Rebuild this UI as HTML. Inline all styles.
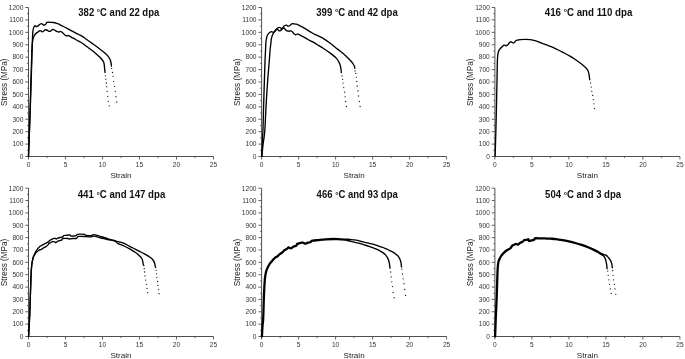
<!DOCTYPE html>
<html><head><meta charset="utf-8"><title>Stress-strain curves</title>
<style>
html,body{margin:0;padding:0;background:#fff;}
body{width:685px;height:359px;overflow:hidden;}
svg{display:block;}
.ax{fill:none;stroke:#505050;stroke-width:1;}
.tk{fill:none;stroke:#505050;stroke-width:0.9;}
.yl{font-family:"Liberation Sans",Arial,sans-serif;font-size:6.6px;fill:#333;text-anchor:end;}
.xl{font-family:"Liberation Sans",Arial,sans-serif;font-size:6.6px;fill:#333;text-anchor:middle;}
.at{font-family:"Liberation Sans",Arial,sans-serif;font-size:8.1px;fill:#222;text-anchor:middle;}
.tt{font-family:"Liberation Sans",Arial,sans-serif;font-size:10.5px;font-weight:bold;fill:#111;}
.dg{font-size:9px;}
.st{font-size:8.6px;}
.cv{fill:none;stroke:#000;stroke-width:1.35;stroke-linejoin:round;stroke-linecap:round;}
.thick{stroke-width:2.3;}
.thick6{stroke-width:2.3;}
.dots circle{fill:#111;}
</style></head>
<body>
<svg width="685" height="359" viewBox="0 0 685 359">
<rect width="685" height="359" fill="#fff"/>
<path d="M28.5 7.5V156.5H213.5" class="ax"/>
<path d="M25.3 156.5H28.5M27 150.29H28.5M25.3 144.08H28.5M27 137.88H28.5M25.3 131.67H28.5M27 125.46H28.5M25.3 119.25H28.5M27 113.04H28.5M25.3 106.83H28.5M27 100.63H28.5M25.3 94.42H28.5M27 88.21H28.5M25.3 82H28.5M27 75.79H28.5M25.3 69.58H28.5M27 63.38H28.5M25.3 57.17H28.5M27 50.96H28.5M25.3 44.75H28.5M27 38.54H28.5M25.3 32.33H28.5M27 26.13H28.5M25.3 19.92H28.5M27 13.71H28.5M25.3 7.5H28.5M28.5 156.5V159.5M47 156.5V158M65.5 156.5V159.5M84 156.5V158M102.5 156.5V159.5M121 156.5V158M139.5 156.5V159.5M158 156.5V158M176.5 156.5V159.5M195 156.5V158M213.5 156.5V159.5" class="tk"/>
<text x="23.4" y="158.8" class="yl">0</text>
<text x="23.4" y="146.38" class="yl">100</text>
<text x="23.4" y="133.97" class="yl">200</text>
<text x="23.4" y="121.55" class="yl">300</text>
<text x="23.4" y="109.13" class="yl">400</text>
<text x="23.4" y="96.72" class="yl">500</text>
<text x="23.4" y="84.3" class="yl">600</text>
<text x="23.4" y="71.88" class="yl">700</text>
<text x="23.4" y="59.47" class="yl">800</text>
<text x="23.4" y="47.05" class="yl">900</text>
<text x="23.4" y="34.63" class="yl">1000</text>
<text x="23.4" y="22.22" class="yl">1100</text>
<text x="23.4" y="9.8" class="yl">1200</text>
<text x="28.5" y="166.9" class="xl">0</text>
<text x="65.5" y="166.9" class="xl">5</text>
<text x="102.5" y="166.9" class="xl">10</text>
<text x="139.5" y="166.9" class="xl">15</text>
<text x="176.5" y="166.9" class="xl">20</text>
<text x="213.5" y="166.9" class="xl">25</text>
<text x="121" y="178.1" class="at">Strain</text>
<text transform="translate(6.6 82.2) rotate(-90)" class="at st" textLength="47.4" lengthAdjust="spacingAndGlyphs">Stress (MPa)</text>
<path d="M261.6 7.5V156.5H446.6" class="ax"/>
<path d="M258.4 156.5H261.6M260.1 150.29H261.6M258.4 144.08H261.6M260.1 137.88H261.6M258.4 131.67H261.6M260.1 125.46H261.6M258.4 119.25H261.6M260.1 113.04H261.6M258.4 106.83H261.6M260.1 100.63H261.6M258.4 94.42H261.6M260.1 88.21H261.6M258.4 82H261.6M260.1 75.79H261.6M258.4 69.58H261.6M260.1 63.38H261.6M258.4 57.17H261.6M260.1 50.96H261.6M258.4 44.75H261.6M260.1 38.54H261.6M258.4 32.33H261.6M260.1 26.13H261.6M258.4 19.92H261.6M260.1 13.71H261.6M258.4 7.5H261.6M261.6 156.5V159.5M280.1 156.5V158M298.6 156.5V159.5M317.1 156.5V158M335.6 156.5V159.5M354.1 156.5V158M372.6 156.5V159.5M391.1 156.5V158M409.6 156.5V159.5M428.1 156.5V158M446.6 156.5V159.5" class="tk"/>
<text x="256.5" y="158.8" class="yl">0</text>
<text x="256.5" y="146.38" class="yl">100</text>
<text x="256.5" y="133.97" class="yl">200</text>
<text x="256.5" y="121.55" class="yl">300</text>
<text x="256.5" y="109.13" class="yl">400</text>
<text x="256.5" y="96.72" class="yl">500</text>
<text x="256.5" y="84.3" class="yl">600</text>
<text x="256.5" y="71.88" class="yl">700</text>
<text x="256.5" y="59.47" class="yl">800</text>
<text x="256.5" y="47.05" class="yl">900</text>
<text x="256.5" y="34.63" class="yl">1000</text>
<text x="256.5" y="22.22" class="yl">1100</text>
<text x="256.5" y="9.8" class="yl">1200</text>
<text x="261.6" y="166.9" class="xl">0</text>
<text x="298.6" y="166.9" class="xl">5</text>
<text x="335.6" y="166.9" class="xl">10</text>
<text x="372.6" y="166.9" class="xl">15</text>
<text x="409.6" y="166.9" class="xl">20</text>
<text x="446.6" y="166.9" class="xl">25</text>
<text x="354.1" y="178.1" class="at">Strain</text>
<text transform="translate(239.7 82.2) rotate(-90)" class="at st" textLength="47.4" lengthAdjust="spacingAndGlyphs">Stress (MPa)</text>
<path d="M494.9 7.5V156.5H679.9" class="ax"/>
<path d="M491.7 156.5H494.9M493.4 150.29H494.9M491.7 144.08H494.9M493.4 137.88H494.9M491.7 131.67H494.9M493.4 125.46H494.9M491.7 119.25H494.9M493.4 113.04H494.9M491.7 106.83H494.9M493.4 100.63H494.9M491.7 94.42H494.9M493.4 88.21H494.9M491.7 82H494.9M493.4 75.79H494.9M491.7 69.58H494.9M493.4 63.38H494.9M491.7 57.17H494.9M493.4 50.96H494.9M491.7 44.75H494.9M493.4 38.54H494.9M491.7 32.33H494.9M493.4 26.13H494.9M491.7 19.92H494.9M493.4 13.71H494.9M491.7 7.5H494.9M494.9 156.5V159.5M513.4 156.5V158M531.9 156.5V159.5M550.4 156.5V158M568.9 156.5V159.5M587.4 156.5V158M605.9 156.5V159.5M624.4 156.5V158M642.9 156.5V159.5M661.4 156.5V158M679.9 156.5V159.5" class="tk"/>
<text x="489.8" y="158.8" class="yl">0</text>
<text x="489.8" y="146.38" class="yl">100</text>
<text x="489.8" y="133.97" class="yl">200</text>
<text x="489.8" y="121.55" class="yl">300</text>
<text x="489.8" y="109.13" class="yl">400</text>
<text x="489.8" y="96.72" class="yl">500</text>
<text x="489.8" y="84.3" class="yl">600</text>
<text x="489.8" y="71.88" class="yl">700</text>
<text x="489.8" y="59.47" class="yl">800</text>
<text x="489.8" y="47.05" class="yl">900</text>
<text x="489.8" y="34.63" class="yl">1000</text>
<text x="489.8" y="22.22" class="yl">1100</text>
<text x="489.8" y="9.8" class="yl">1200</text>
<text x="494.9" y="166.9" class="xl">0</text>
<text x="531.9" y="166.9" class="xl">5</text>
<text x="568.9" y="166.9" class="xl">10</text>
<text x="605.9" y="166.9" class="xl">15</text>
<text x="642.9" y="166.9" class="xl">20</text>
<text x="679.9" y="166.9" class="xl">25</text>
<text x="587.4" y="178.1" class="at">Strain</text>
<text transform="translate(473 82.2) rotate(-90)" class="at st" textLength="47.4" lengthAdjust="spacingAndGlyphs">Stress (MPa)</text>
<path d="M28.5 188.2V336.5H213.5" class="ax"/>
<path d="M25.3 336.5H28.5M27 330.32H28.5M25.3 324.14H28.5M27 317.96H28.5M25.3 311.78H28.5M27 305.6H28.5M25.3 299.43H28.5M27 293.25H28.5M25.3 287.07H28.5M27 280.89H28.5M25.3 274.71H28.5M27 268.53H28.5M25.3 262.35H28.5M27 256.17H28.5M25.3 249.99H28.5M27 243.81H28.5M25.3 237.63H28.5M27 231.45H28.5M25.3 225.27H28.5M27 219.1H28.5M25.3 212.92H28.5M27 206.74H28.5M25.3 200.56H28.5M27 194.38H28.5M25.3 188.2H28.5M28.5 336.5V339.5M47 336.5V338M65.5 336.5V339.5M84 336.5V338M102.5 336.5V339.5M121 336.5V338M139.5 336.5V339.5M158 336.5V338M176.5 336.5V339.5M195 336.5V338M213.5 336.5V339.5" class="tk"/>
<text x="23.4" y="338.8" class="yl">0</text>
<text x="23.4" y="326.44" class="yl">100</text>
<text x="23.4" y="314.08" class="yl">200</text>
<text x="23.4" y="301.73" class="yl">300</text>
<text x="23.4" y="289.37" class="yl">400</text>
<text x="23.4" y="277.01" class="yl">500</text>
<text x="23.4" y="264.65" class="yl">600</text>
<text x="23.4" y="252.29" class="yl">700</text>
<text x="23.4" y="239.93" class="yl">800</text>
<text x="23.4" y="227.57" class="yl">900</text>
<text x="23.4" y="215.22" class="yl">1000</text>
<text x="23.4" y="202.86" class="yl">1100</text>
<text x="23.4" y="190.5" class="yl">1200</text>
<text x="28.5" y="346.9" class="xl">0</text>
<text x="65.5" y="346.9" class="xl">5</text>
<text x="102.5" y="346.9" class="xl">10</text>
<text x="139.5" y="346.9" class="xl">15</text>
<text x="176.5" y="346.9" class="xl">20</text>
<text x="213.5" y="346.9" class="xl">25</text>
<text x="121" y="358.1" class="at">Strain</text>
<text transform="translate(6.6 262.55) rotate(-90)" class="at st" textLength="47.4" lengthAdjust="spacingAndGlyphs">Stress (MPa)</text>
<path d="M261.6 188.2V336.5H446.6" class="ax"/>
<path d="M258.4 336.5H261.6M260.1 330.32H261.6M258.4 324.14H261.6M260.1 317.96H261.6M258.4 311.78H261.6M260.1 305.6H261.6M258.4 299.43H261.6M260.1 293.25H261.6M258.4 287.07H261.6M260.1 280.89H261.6M258.4 274.71H261.6M260.1 268.53H261.6M258.4 262.35H261.6M260.1 256.17H261.6M258.4 249.99H261.6M260.1 243.81H261.6M258.4 237.63H261.6M260.1 231.45H261.6M258.4 225.27H261.6M260.1 219.1H261.6M258.4 212.92H261.6M260.1 206.74H261.6M258.4 200.56H261.6M260.1 194.38H261.6M258.4 188.2H261.6M261.6 336.5V339.5M280.1 336.5V338M298.6 336.5V339.5M317.1 336.5V338M335.6 336.5V339.5M354.1 336.5V338M372.6 336.5V339.5M391.1 336.5V338M409.6 336.5V339.5M428.1 336.5V338M446.6 336.5V339.5" class="tk"/>
<text x="256.5" y="338.8" class="yl">0</text>
<text x="256.5" y="326.44" class="yl">100</text>
<text x="256.5" y="314.08" class="yl">200</text>
<text x="256.5" y="301.73" class="yl">300</text>
<text x="256.5" y="289.37" class="yl">400</text>
<text x="256.5" y="277.01" class="yl">500</text>
<text x="256.5" y="264.65" class="yl">600</text>
<text x="256.5" y="252.29" class="yl">700</text>
<text x="256.5" y="239.93" class="yl">800</text>
<text x="256.5" y="227.57" class="yl">900</text>
<text x="256.5" y="215.22" class="yl">1000</text>
<text x="256.5" y="202.86" class="yl">1100</text>
<text x="256.5" y="190.5" class="yl">1200</text>
<text x="261.6" y="346.9" class="xl">0</text>
<text x="298.6" y="346.9" class="xl">5</text>
<text x="335.6" y="346.9" class="xl">10</text>
<text x="372.6" y="346.9" class="xl">15</text>
<text x="409.6" y="346.9" class="xl">20</text>
<text x="446.6" y="346.9" class="xl">25</text>
<text x="354.1" y="358.1" class="at">Strain</text>
<text transform="translate(239.7 262.55) rotate(-90)" class="at st" textLength="47.4" lengthAdjust="spacingAndGlyphs">Stress (MPa)</text>
<path d="M494.9 188.2V336.5H679.9" class="ax"/>
<path d="M491.7 336.5H494.9M493.4 330.32H494.9M491.7 324.14H494.9M493.4 317.96H494.9M491.7 311.78H494.9M493.4 305.6H494.9M491.7 299.43H494.9M493.4 293.25H494.9M491.7 287.07H494.9M493.4 280.89H494.9M491.7 274.71H494.9M493.4 268.53H494.9M491.7 262.35H494.9M493.4 256.17H494.9M491.7 249.99H494.9M493.4 243.81H494.9M491.7 237.63H494.9M493.4 231.45H494.9M491.7 225.27H494.9M493.4 219.1H494.9M491.7 212.92H494.9M493.4 206.74H494.9M491.7 200.56H494.9M493.4 194.38H494.9M491.7 188.2H494.9M494.9 336.5V339.5M513.4 336.5V338M531.9 336.5V339.5M550.4 336.5V338M568.9 336.5V339.5M587.4 336.5V338M605.9 336.5V339.5M624.4 336.5V338M642.9 336.5V339.5M661.4 336.5V338M679.9 336.5V339.5" class="tk"/>
<text x="489.8" y="338.8" class="yl">0</text>
<text x="489.8" y="326.44" class="yl">100</text>
<text x="489.8" y="314.08" class="yl">200</text>
<text x="489.8" y="301.73" class="yl">300</text>
<text x="489.8" y="289.37" class="yl">400</text>
<text x="489.8" y="277.01" class="yl">500</text>
<text x="489.8" y="264.65" class="yl">600</text>
<text x="489.8" y="252.29" class="yl">700</text>
<text x="489.8" y="239.93" class="yl">800</text>
<text x="489.8" y="227.57" class="yl">900</text>
<text x="489.8" y="215.22" class="yl">1000</text>
<text x="489.8" y="202.86" class="yl">1100</text>
<text x="489.8" y="190.5" class="yl">1200</text>
<text x="494.9" y="346.9" class="xl">0</text>
<text x="531.9" y="346.9" class="xl">5</text>
<text x="568.9" y="346.9" class="xl">10</text>
<text x="605.9" y="346.9" class="xl">15</text>
<text x="642.9" y="346.9" class="xl">20</text>
<text x="679.9" y="346.9" class="xl">25</text>
<text x="587.4" y="358.1" class="at">Strain</text>
<text transform="translate(473 262.55) rotate(-90)" class="at st" textLength="47.4" lengthAdjust="spacingAndGlyphs">Stress (MPa)</text>
<text x="78.3" y="15.6" class="tt" textLength="81" lengthAdjust="spacingAndGlyphs">382 <tspan class="dg" dy="-0.3">&#176;</tspan><tspan dy="0.3">C and 22 dpa</tspan></text>
<text x="316.3" y="15.6" class="tt" textLength="81.5" lengthAdjust="spacingAndGlyphs">399 <tspan class="dg" dy="-0.3">&#176;</tspan><tspan dy="0.3">C and 42 dpa</tspan></text>
<text x="544.8" y="15.6" class="tt" textLength="87.5" lengthAdjust="spacingAndGlyphs">416 <tspan class="dg" dy="-0.3">&#176;</tspan><tspan dy="0.3">C and 110 dpa</tspan></text>
<text x="77.7" y="198.1" class="tt" textLength="87.6" lengthAdjust="spacingAndGlyphs">441 <tspan class="dg" dy="-0.3">&#176;</tspan><tspan dy="0.3">C and 147 dpa</tspan></text>
<text x="316.6" y="198.1" class="tt" textLength="81.2" lengthAdjust="spacingAndGlyphs">466 <tspan class="dg" dy="-0.3">&#176;</tspan><tspan dy="0.3">C and 93 dpa</tspan></text>
<text x="545.1" y="198.1" class="tt" textLength="76" lengthAdjust="spacingAndGlyphs">504 <tspan class="dg" dy="-0.3">&#176;</tspan><tspan dy="0.3">C and 3 dpa</tspan></text>
<path d="M28.5 156.4C28.78 148.67 29.7 124.4 30.2 110C30.7 95.6 31.18 80 31.5 70C31.82 60 31.93 55.33 32.1 50C32.27 44.67 32.37 41.17 32.5 38C32.63 34.83 32.72 32.68 32.9 31C33.08 29.32 33.33 28.7 33.6 27.9C33.87 27.1 34.22 26.58 34.5 26.2C34.78 25.82 35.03 25.55 35.3 25.6C35.57 25.65 35.77 26.38 36.1 26.5C36.43 26.62 36.92 26.43 37.3 26.3C37.68 26.17 37.95 26.05 38.4 25.7C38.85 25.35 39.45 24.55 40 24.2C40.55 23.85 41.25 23.57 41.7 23.6C42.15 23.63 42.38 24.17 42.7 24.4C43.02 24.63 43.28 24.9 43.6 25C43.92 25.1 44.23 25.12 44.6 25C44.97 24.88 45.5 24.63 45.8 24.3C46.1 23.97 46.2 23.32 46.4 23C46.6 22.68 46.67 22.53 47 22.4C47.33 22.27 47.9 22.22 48.4 22.2C48.9 22.18 49.17 22.25 50 22.3C50.83 22.35 52.28 22.33 53.4 22.5C54.52 22.67 55.78 23.02 56.7 23.3C57.62 23.58 58.17 23.85 58.9 24.2C59.63 24.55 60.35 25.02 61.1 25.4C61.85 25.78 62.32 25.95 63.4 26.5C64.48 27.05 65.98 27.83 67.6 28.7C69.22 29.57 71.25 30.73 73.1 31.7C74.95 32.67 77.22 33.75 78.7 34.5C80.18 35.25 80.73 35.42 82 36.2C83.27 36.98 84.55 37.97 86.3 39.2C88.05 40.43 90.42 42.1 92.5 43.6C94.58 45.1 96.7 46.6 98.8 48.2C100.9 49.8 103.53 51.85 105.1 53.2C106.67 54.55 107.37 55.25 108.2 56.3C109.03 57.35 109.62 58.35 110.1 59.5C110.58 60.65 110.88 62.12 111.1 63.2C111.32 64.28 111.35 65.53 111.4 66" class="cv"/>
<path d="M28.5 156.4C28.77 148.67 29.63 124.4 30.1 110C30.57 95.6 31.02 79.5 31.3 70C31.58 60.5 31.63 57.33 31.8 53C31.97 48.67 32.1 46.37 32.3 44C32.5 41.63 32.68 40.17 33 38.8C33.32 37.43 33.77 36.65 34.2 35.8C34.63 34.95 35.13 34.23 35.6 33.7C36.07 33.17 36.53 32.93 37 32.6C37.47 32.27 37.93 32.03 38.4 31.7C38.87 31.37 39.33 30.7 39.8 30.6C40.27 30.5 40.75 30.88 41.2 31.1C41.65 31.32 42.08 31.9 42.5 31.9C42.92 31.9 43.27 31.45 43.7 31.1C44.13 30.75 44.6 29.98 45.1 29.8C45.6 29.62 46.15 29.78 46.7 30C47.25 30.22 47.88 30.87 48.4 31.1C48.92 31.33 49.33 31.5 49.8 31.4C50.27 31.3 50.68 30.83 51.2 30.5C51.72 30.17 52.35 29.48 52.9 29.4C53.45 29.32 53.97 29.72 54.5 30C55.03 30.28 55.57 30.82 56.1 31.1C56.63 31.38 57.22 31.53 57.7 31.7C58.18 31.87 58.57 32.15 59 32.1C59.43 32.05 59.8 31.38 60.3 31.4C60.8 31.42 61.43 31.8 62 32.2C62.57 32.6 63.15 33.28 63.7 33.8C64.25 34.32 64.7 34.95 65.3 35.3C65.9 35.65 66.83 35.88 67.3 35.9C67.77 35.92 67.78 35.4 68.1 35.4C68.42 35.4 68.37 35.43 69.2 35.9C70.03 36.37 71.52 37.32 73.1 38.2C74.68 39.08 77.17 40.35 78.7 41.2C80.23 42.05 81.03 42.45 82.3 43.3C83.57 44.15 84.6 45.07 86.3 46.3C88 47.53 90.42 49.03 92.5 50.7C94.58 52.37 97.23 54.83 98.8 56.3C100.37 57.77 101.07 58.45 101.9 59.5C102.73 60.55 103.38 61.47 103.8 62.6C104.22 63.73 104.2 64.65 104.4 66.3C104.6 67.95 104.9 71.47 105 72.5" class="cv"/>
<path d="M261.8 156.4C261.88 154.5 262.15 148.57 262.3 145C262.45 141.43 262.57 138.17 262.7 135C262.83 131.83 262.97 130.17 263.1 126C263.23 121.83 263.38 114.33 263.5 110C263.62 105.67 263.65 105 263.8 100C263.95 95 264.2 86.33 264.4 80C264.6 73.67 264.82 66.83 265 62C265.18 57.17 265.33 54.42 265.5 51C265.67 47.58 265.75 43.97 266 41.5C266.25 39.03 266.58 37.52 267 36.2C267.42 34.88 268 34.27 268.5 33.6C269 32.93 269.53 32.53 270 32.2C270.47 31.87 270.88 31.62 271.3 31.6C271.72 31.58 272.02 32.02 272.5 32.1C272.98 32.18 273.62 32.4 274.2 32.1C274.78 31.8 275.42 30.97 276 30.3C276.58 29.63 277.12 28.6 277.7 28.1C278.28 27.6 278.98 27.3 279.5 27.3C280.02 27.3 280.3 27.88 280.8 28.1C281.3 28.32 281.92 28.6 282.5 28.6C283.08 28.6 283.85 27.95 284.3 28.1C284.75 28.25 284.77 29.05 285.2 29.5C285.63 29.95 286.25 30.52 286.9 30.8C287.55 31.08 288.45 31.2 289.1 31.2C289.75 31.2 290.22 30.65 290.8 30.8C291.38 30.95 292.08 31.6 292.6 32.1C293.12 32.6 293.38 33.37 293.9 33.8C294.42 34.23 295.03 34.7 295.7 34.7C296.37 34.7 297.32 33.8 297.9 33.8C298.48 33.8 298.27 34.18 299.2 34.7C300.13 35.22 302.05 36.1 303.5 36.9C304.95 37.7 306.43 38.7 307.9 39.5C309.37 40.3 310.78 40.87 312.3 41.7C313.82 42.53 315.07 43.33 317 44.5C318.93 45.67 321.58 47.18 323.9 48.7C326.22 50.22 328.8 51.98 330.9 53.6C333 55.22 335.12 56.9 336.5 58.4C337.88 59.9 338.52 61.2 339.2 62.6C339.88 64 340.23 65.13 340.6 66.8C340.97 68.47 341.27 71.63 341.4 72.6" class="cv"/>
<path d="M261.9 156.4C262.08 154.5 262.58 148.57 263 145C263.42 141.43 264.05 138.17 264.4 135C264.75 131.83 264.9 129.33 265.1 126C265.3 122.67 265.38 119.33 265.6 115C265.82 110.67 266.05 105.83 266.4 100C266.75 94.17 267.23 86.33 267.7 80C268.17 73.67 268.82 66.83 269.2 62C269.58 57.17 269.72 54.17 270 51C270.28 47.83 270.65 45.13 270.9 43C271.15 40.87 271.23 39.53 271.5 38.2C271.77 36.87 272.08 36 272.5 35C272.92 34 273.58 32.93 274 32.2C274.42 31.47 274.57 31.1 275 30.6C275.43 30.1 276.18 29.42 276.6 29.2C277.02 28.98 277.1 29.03 277.5 29.3C277.9 29.57 278.45 30.63 279 30.8C279.55 30.97 280.28 30.6 280.8 30.3C281.32 30 281.67 29.58 282.1 29C282.53 28.42 282.97 27.38 283.4 26.8C283.83 26.22 284.18 25.78 284.7 25.5C285.22 25.22 285.92 24.98 286.5 25.1C287.08 25.22 287.62 26.13 288.2 26.2C288.78 26.27 289.42 25.9 290 25.5C290.58 25.1 291.05 24.08 291.7 23.8C292.35 23.52 293.1 23.73 293.9 23.8C294.7 23.87 295.62 23.95 296.5 24.2C297.38 24.45 298.03 24.72 299.2 25.3C300.37 25.88 302.05 26.87 303.5 27.7C304.95 28.53 306.43 29.42 307.9 30.3C309.37 31.18 310.7 32.12 312.3 33C313.9 33.88 315.57 34.62 317.5 35.6C319.43 36.58 321.67 37.53 323.9 38.9C326.13 40.27 328.57 42.05 330.9 43.8C333.23 45.55 335.58 47.55 337.9 49.4C340.22 51.25 342.72 53.05 344.8 54.9C346.88 56.75 349 58.98 350.4 60.5C351.8 62.02 352.5 62.95 353.2 64C353.9 65.05 354.33 66.07 354.6 66.8C354.87 67.53 354.77 68.13 354.8 68.4" class="cv"/>
<path d="M495.1 156.3C495.23 151.92 495.65 139.38 495.9 130C496.15 120.62 496.4 109.17 496.6 100C496.8 90.83 496.98 81 497.1 75C497.22 69 497.22 67 497.3 64C497.38 61 497.45 58.88 497.6 57C497.75 55.12 497.95 53.85 498.2 52.7C498.45 51.55 498.72 50.83 499.1 50.1C499.48 49.37 500.02 48.83 500.5 48.3C500.98 47.77 501.52 47.38 502 46.9C502.48 46.42 502.92 45.7 503.4 45.4C503.88 45.1 504.48 45.03 504.9 45.1C505.32 45.17 505.48 45.8 505.9 45.8C506.32 45.8 506.97 45.4 507.4 45.1C507.83 44.8 508.13 44.43 508.5 44C508.87 43.57 509.12 42.87 509.6 42.5C510.08 42.13 510.87 41.73 511.4 41.8C511.93 41.87 512.27 42.83 512.8 42.9C513.33 42.97 514.12 42.57 514.6 42.2C515.08 41.83 515.15 41.07 515.7 40.7C516.25 40.33 517.18 40.17 517.9 40C518.62 39.83 518.82 39.8 520 39.7C521.18 39.6 523.27 39.4 525 39.4C526.73 39.4 528.72 39.48 530.4 39.7C532.08 39.92 533.43 40.2 535.1 40.7C536.77 41.2 538.62 42.03 540.4 42.7C542.18 43.37 544.02 44.05 545.8 44.7C547.58 45.35 549.18 45.8 551.1 46.6C553.02 47.4 555.25 48.5 557.3 49.5C559.35 50.5 561.37 51.53 563.4 52.6C565.43 53.67 567.47 54.7 569.5 55.9C571.53 57.1 573.55 58.4 575.6 59.8C577.65 61.2 580.17 63.03 581.8 64.3C583.43 65.57 584.38 66.37 585.4 67.4C586.42 68.43 587.28 69.27 587.9 70.5C588.52 71.73 588.8 73.27 589.1 74.8C589.4 76.33 589.6 78.88 589.7 79.7" class="cv"/>
<path d="M28.6 336.4C28.64 335.64 29.12 326.51 29.2 325C29.28 323.49 29.68 315.62 29.75 313.75C29.82 311.88 30.23 299.05 30.3 297C30.37 294.95 30.75 284.53 30.8 283C30.85 281.47 31.04 275.2 31.1 274C31.16 272.8 31.65 265.93 31.75 265C31.85 264.07 32.49 260.55 32.6 260C32.71 259.45 33.27 257.19 33.4 256.8C33.53 256.41 34.33 254.57 34.5 254.2C34.67 253.83 35.7 251.67 36 251.2C36.3 250.73 38.63 247.58 39 247.2C39.37 246.82 41.17 245.7 41.5 245.5C41.83 245.3 43.67 244.37 44 244.2C44.33 244.03 46.2 243.05 46.5 242.9C46.8 242.75 48.3 242.06 48.5 241.9C48.7 241.74 49.22 240.71 49.5 240.5C49.78 240.29 52.34 238.96 52.7 238.8C53.06 238.64 54.66 238.09 54.9 238.1C55.14 238.11 56.12 238.99 56.3 239C56.48 239.01 57.35 238.3 57.6 238.2C57.85 238.1 59.66 237.59 60 237.5C60.34 237.41 62.45 237.03 62.7 236.9C62.95 236.77 63.48 235.61 63.7 235.5C63.92 235.39 65.58 235.34 66 235.3C66.42 235.26 69.67 234.85 70 234.9C70.33 234.95 70.77 235.93 71 236C71.23 236.07 73.07 236.02 73.4 236C73.73 235.98 75.73 235.81 76 235.7C76.27 235.59 77.13 234.41 77.4 234.3C77.67 234.19 79.51 234.1 80 234.1C80.49 234.1 84.3 234.21 84.7 234.3C85.1 234.39 85.55 235.31 86 235.4C86.45 235.49 90.93 235.75 91.4 235.7C91.87 235.65 92.73 234.65 93 234.6C93.27 234.55 94.93 234.79 95.4 234.9C95.87 235.01 99.43 236.13 100 236.3C100.57 236.47 103.47 237.23 104 237.4C104.53 237.57 107.37 238.72 108 238.9C108.63 239.08 112.87 239.95 113.4 240.1C113.93 240.25 115.56 240.97 116 241.1C116.44 241.23 119.47 241.95 120 242.1C120.53 242.25 123.39 243.03 124 243.3C124.61 243.57 128.53 245.75 129.2 246.1C129.87 246.45 133.35 248.17 134 248.5C134.65 248.83 138.37 250.77 139 251.1C139.63 251.43 142.97 253.11 143.5 253.4C144.03 253.69 146.57 255.14 147 255.4C147.43 255.66 149.64 257.05 150 257.3C150.36 257.55 152.14 258.93 152.4 259.2C152.66 259.47 153.74 261.08 153.9 261.4C154.06 261.72 154.7 263.64 154.8 264C154.9 264.36 155.36 266.61 155.4 266.8" class="cv"/>
<path d="M28.6 336.4C28.64 335.64 29.12 326.51 29.2 325C29.28 323.49 29.68 315.62 29.75 313.75C29.82 311.88 30.23 299.05 30.3 297C30.37 294.95 30.75 284.53 30.8 283C30.85 281.47 31.04 275.2 31.1 274C31.16 272.8 31.65 265.93 31.75 265C31.85 264.07 32.49 260.53 32.6 260C32.71 259.47 33.27 257.33 33.4 257C33.53 256.67 34.33 255.29 34.5 255C34.67 254.71 35.7 252.92 36 252.6C36.3 252.28 38.67 250.41 39 250.2C39.33 249.99 40.7 249.65 41 249.5C41.3 249.35 43.17 248.09 43.5 247.9C43.83 247.71 45.7 246.8 46 246.6C46.3 246.4 47.8 245.11 48 244.9C48.2 244.69 48.83 243.55 49 243.4C49.17 243.25 50.25 242.71 50.5 242.6C50.75 242.49 52.43 241.75 52.7 241.7C52.97 241.65 54.39 241.74 54.6 241.8C54.81 241.86 55.6 242.63 55.8 242.6C56 242.57 57.37 241.53 57.6 241.4C57.83 241.27 59.03 240.78 59.3 240.7C59.57 240.62 61.42 240.28 61.6 240.2C61.78 240.12 61.93 239.61 62 239.5C62.07 239.39 62.3 238.57 62.7 238.5C63.1 238.43 67.55 238.46 68 238.5C68.45 238.54 69.24 239.08 69.4 239.1C69.56 239.12 70.18 238.84 70.4 238.8C70.62 238.76 72.3 238.52 72.7 238.5C73.1 238.48 76.09 238.59 76.4 238.5C76.71 238.41 77.25 237.24 77.4 237.1C77.55 236.96 78.21 236.44 78.7 236.4C79.19 236.36 83.85 236.47 84.7 236.5C85.55 236.53 90.78 236.83 91.4 236.8C92.02 236.77 93.56 236.08 94 236.1C94.44 236.12 97.55 236.97 98 237.1C98.45 237.23 100.3 237.91 100.7 238C101.1 238.09 103.51 238.39 104 238.5C104.49 238.61 107.37 239.46 108 239.6C108.63 239.74 112.87 240.47 113.4 240.6C113.93 240.73 115.73 241.43 116 241.6C116.27 241.77 117.13 243.01 117.4 243.2C117.67 243.39 119.56 244.21 120 244.4C120.44 244.59 123.39 245.72 124 246C124.61 246.28 128.63 248.29 129.2 248.6C129.77 248.91 132.11 250.35 132.5 250.6C132.89 250.85 134.75 252.06 135.1 252.3C135.45 252.54 137.48 253.94 137.8 254.2C138.12 254.46 139.65 255.95 139.9 256.2C140.15 256.45 141.33 257.74 141.5 258C141.67 258.26 142.39 259.7 142.5 260.1C142.61 260.5 143.14 263.67 143.2 264C143.26 264.33 143.39 264.93 143.4 265" class="cv"/>
<path d="M346 239.4C346.67 239.42 348.32 239.38 350 239.5C351.68 239.62 354.07 239.73 356.1 240.1C358.13 240.47 360.15 241.18 362.2 241.7C364.25 242.22 366.35 242.7 368.4 243.2C370.45 243.7 372.57 244.13 374.5 244.7C376.43 245.27 378.25 246 380 246.6C381.75 247.2 383.47 247.68 385 248.3C386.53 248.92 387.87 249.65 389.2 250.3C390.53 250.95 391.87 251.53 393 252.2C394.13 252.87 395.12 253.6 396 254.3C396.88 255 397.65 255.58 398.3 256.4C398.95 257.22 399.47 258.23 399.9 259.2C400.33 260.17 400.67 261.2 400.9 262.2C401.13 263.2 401.2 264.4 401.3 265.2C401.4 266 401.47 266.7 401.5 267" class="cv"/>
<path d="M346 240.2C346.67 240.37 348.32 240.8 350 241.2C351.68 241.6 354.07 242.12 356.1 242.6C358.13 243.08 360.15 243.5 362.2 244.1C364.25 244.7 366.35 245.48 368.4 246.2C370.45 246.92 372.57 247.63 374.5 248.4C376.43 249.17 378.53 250.05 380 250.8C381.47 251.55 382.38 252.22 383.3 252.9C384.22 253.58 384.83 254.17 385.5 254.9C386.17 255.63 386.8 256.45 387.3 257.3C387.8 258.15 388.15 258.97 388.5 260C388.85 261.03 389.15 262.15 389.4 263.5C389.65 264.85 389.9 267.33 390 268.1" class="cv"/>
<path d="M602.7 254.8C602.98 255.15 603.92 256.07 604.4 256.9C604.88 257.73 605.25 258.68 605.6 259.8C605.95 260.92 606.28 262.42 606.5 263.6C606.72 264.78 606.8 266.07 606.9 266.9C607 267.73 607.07 268.32 607.1 268.6" class="cv"/>
<path d="M602.3 254.2C602.92 254.37 604.97 254.62 606 255.2C607.03 255.78 607.73 256.8 608.5 257.7C609.27 258.6 610.03 259.48 610.6 260.6C611.17 261.72 611.62 263.22 611.9 264.4C612.18 265.58 612.23 267.15 612.3 267.7" class="cv"/>
<path d="M261.9 336.4C262.02 334.5 262.38 327.98 262.6 325C262.82 322.02 263 322.82 263.2 318.5C263.4 314.18 263.62 304.18 263.8 299.1C263.98 294.02 264.13 291.18 264.3 288C264.47 284.82 264.63 282.03 264.8 280C264.97 277.97 265.05 277.33 265.3 275.8C265.55 274.27 265.87 272.25 266.3 270.8C266.73 269.35 267.28 268.33 267.9 267.1C268.52 265.87 269.23 264.52 270 263.4C270.77 262.28 271.58 261.4 272.5 260.4C273.42 259.4 274.73 258.03 275.5 257.4C276.27 256.77 276.48 257.07 277.1 256.6C277.72 256.13 278.37 255.28 279.2 254.6C280.03 253.92 281.33 253.13 282.1 252.5C282.87 251.87 283.03 251.38 283.8 250.8C284.57 250.22 285.88 249.57 286.7 249C287.52 248.43 288.03 247.5 288.7 247.4C289.37 247.3 289.92 248.52 290.7 248.4C291.48 248.28 292.45 247.15 293.4 246.7C294.35 246.25 295.8 246.15 296.4 245.7C297 245.25 296.4 244.45 297 244C297.6 243.55 299 243.23 300 243C301 242.77 302.17 242.48 303 242.6C303.83 242.72 304.17 243.7 305 243.7C305.83 243.7 307.05 242.9 308 242.6C308.95 242.3 310.08 242.22 310.7 241.9C311.32 241.58 311.15 240.93 311.7 240.7C312.25 240.47 312.65 240.65 314 240.5C315.35 240.35 317.85 240 319.8 239.8C321.75 239.6 323.45 239.43 325.7 239.3C327.95 239.17 330.87 239 333.3 239C335.73 239 338.17 239.2 340.3 239.3C342.43 239.4 344.65 239.48 346.1 239.6C347.55 239.72 348.52 239.93 349 240" class="cv thick"/>
<path d="M495.1 336.4C495.22 333.25 495.53 324.08 495.8 317.5C496.07 310.92 496.45 303.42 496.7 296.9C496.95 290.38 497.15 282.88 497.3 278.4C497.45 273.92 497.45 272.55 497.6 270C497.75 267.45 497.9 264.88 498.2 263.1C498.5 261.32 498.92 260.48 499.4 259.3C499.88 258.12 500.53 256.9 501.1 256C501.67 255.1 502.17 254.6 502.8 253.9C503.43 253.2 504.28 252.37 504.9 251.8C505.52 251.23 505.88 250.92 506.5 250.5C507.12 250.08 507.9 249.72 508.6 249.3C509.3 248.88 510.13 248.57 510.7 248C511.27 247.43 511.43 246.45 512 245.9C512.57 245.35 513.42 245.05 514.1 244.7C514.78 244.35 515.48 243.8 516.1 243.8C516.72 243.8 517.17 244.83 517.8 244.7C518.43 244.57 519.12 243.5 519.9 243C520.68 242.5 521.77 242.18 522.5 241.7C523.23 241.22 523.6 240.42 524.3 240.1C525 239.78 526.03 239.95 526.7 239.8C527.37 239.65 527.93 239 528.3 239.2C528.67 239.4 528.33 240.8 528.9 241C529.47 241.2 530.83 240.58 531.7 240.4C532.57 240.22 533.58 240.23 534.1 239.9C534.62 239.57 534.08 238.67 534.8 238.4C535.52 238.13 536.78 238.3 538.4 238.3C540.02 238.3 542.45 238.33 544.5 238.4C546.55 238.47 548.78 238.58 550.7 238.7C552.62 238.82 554.05 238.87 556 239.1C557.95 239.33 560.27 239.72 562.4 240.1C564.53 240.48 566.65 240.92 568.8 241.4C570.95 241.88 573.15 242.42 575.3 243C577.45 243.58 579.57 244.2 581.7 244.9C583.83 245.6 585.97 246.33 588.1 247.2C590.23 248.07 592.85 249.3 594.5 250.1C596.15 250.9 597.02 251.45 598 252C598.98 252.55 599.62 252.93 600.4 253.4C601.18 253.87 602.32 254.57 602.7 254.8" class="cv thick6"/>
<g class="dots"><circle cx="111.7" cy="68.3" r="0.65"/><circle cx="112.5" cy="72.5" r="0.65"/><circle cx="113" cy="76.3" r="0.65"/><circle cx="113.7" cy="81.3" r="0.65"/><circle cx="114.5" cy="86.3" r="0.65"/><circle cx="115.3" cy="91.3" r="0.65"/><circle cx="116" cy="96.7" r="0.65"/><circle cx="116.8" cy="102" r="0.65"/><circle cx="105.3" cy="75.8" r="0.65"/><circle cx="105.8" cy="79.2" r="0.65"/><circle cx="106.3" cy="83" r="0.65"/><circle cx="106.7" cy="86.7" r="0.65"/><circle cx="107.2" cy="91.3" r="0.65"/><circle cx="107.8" cy="96.3" r="0.65"/><circle cx="108.3" cy="101.3" r="0.65"/><circle cx="109.2" cy="105.8" r="0.65"/><circle cx="342" cy="75.9" r="0.65"/><circle cx="342.6" cy="79.3" r="0.65"/><circle cx="343.1" cy="83.1" r="0.65"/><circle cx="343.7" cy="87.6" r="0.65"/><circle cx="344.6" cy="92.2" r="0.65"/><circle cx="345.1" cy="96.8" r="0.65"/><circle cx="345.7" cy="101.5" r="0.65"/><circle cx="346.4" cy="106.5" r="0.65"/><circle cx="355.1" cy="70.9" r="0.65"/><circle cx="355.6" cy="73.4" r="0.65"/><circle cx="356.3" cy="77.1" r="0.65"/><circle cx="356.8" cy="81.4" r="0.65"/><circle cx="357.3" cy="86" r="0.65"/><circle cx="358" cy="91" r="0.65"/><circle cx="358.6" cy="96" r="0.65"/><circle cx="359.3" cy="101.4" r="0.65"/><circle cx="360.1" cy="106.5" r="0.65"/><circle cx="590.6" cy="82.9" r="0.65"/><circle cx="591.2" cy="87.1" r="0.65"/><circle cx="591.8" cy="91.3" r="0.65"/><circle cx="592.7" cy="95.4" r="0.65"/><circle cx="593.3" cy="99.6" r="0.65"/><circle cx="593.9" cy="103.8" r="0.65"/><circle cx="594.5" cy="108.6" r="0.65"/><circle cx="155.8" cy="267.5" r="0.65"/><circle cx="156.1" cy="270.3" r="0.65"/><circle cx="156.5" cy="273.8" r="0.65"/><circle cx="156.9" cy="277.3" r="0.65"/><circle cx="157.5" cy="281.5" r="0.65"/><circle cx="158" cy="285.4" r="0.65"/><circle cx="158.6" cy="289.6" r="0.65"/><circle cx="159.1" cy="293.7" r="0.65"/><circle cx="143.9" cy="265.5" r="0.65"/><circle cx="144.2" cy="268.5" r="0.65"/><circle cx="144.6" cy="272" r="0.65"/><circle cx="145" cy="275.9" r="0.65"/><circle cx="145.7" cy="280.1" r="0.65"/><circle cx="146.4" cy="284.3" r="0.65"/><circle cx="147" cy="288.4" r="0.65"/><circle cx="147.7" cy="292.6" r="0.65"/><circle cx="401.9" cy="269.1" r="0.65"/><circle cx="402.5" cy="274" r="0.65"/><circle cx="403.2" cy="278.8" r="0.65"/><circle cx="404" cy="283.7" r="0.65"/><circle cx="404.8" cy="289.5" r="0.65"/><circle cx="405.6" cy="295.4" r="0.65"/><circle cx="390.6" cy="272" r="0.65"/><circle cx="391.2" cy="276.9" r="0.65"/><circle cx="391.8" cy="281.8" r="0.65"/><circle cx="392.5" cy="286.6" r="0.65"/><circle cx="393.1" cy="292.5" r="0.65"/><circle cx="394.1" cy="297.7" r="0.65"/><circle cx="607.7" cy="271.1" r="0.65"/><circle cx="608.2" cy="275.3" r="0.65"/><circle cx="608.9" cy="279.8" r="0.65"/><circle cx="609.6" cy="284.3" r="0.65"/><circle cx="610.3" cy="288.9" r="0.65"/><circle cx="611.2" cy="293.4" r="0.65"/><circle cx="612.7" cy="270.7" r="0.65"/><circle cx="613" cy="275.3" r="0.65"/><circle cx="613.6" cy="279.8" r="0.65"/><circle cx="614.3" cy="284.3" r="0.65"/><circle cx="615" cy="288.9" r="0.65"/><circle cx="615.8" cy="294.3" r="0.65"/></g>
</svg>
</body></html>
